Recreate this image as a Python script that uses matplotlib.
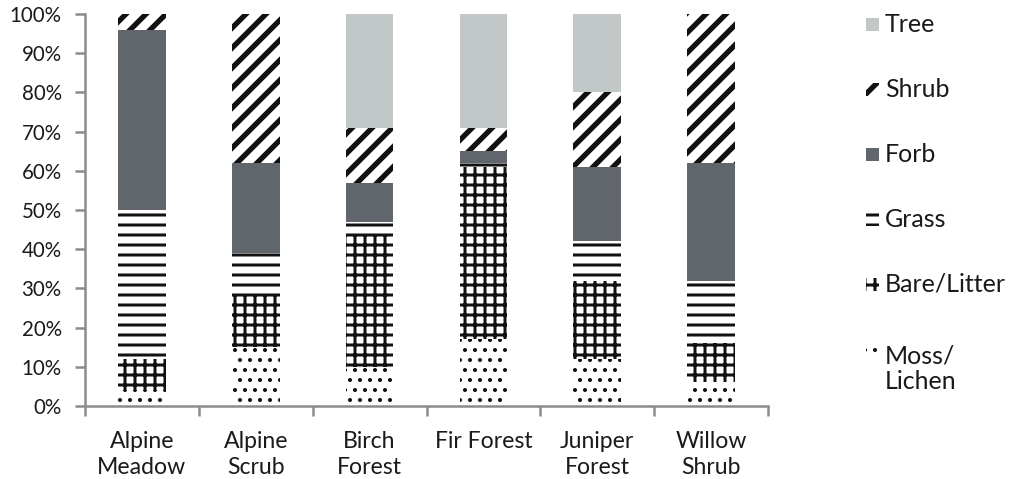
import matplotlib
matplotlib.use("Agg")
import matplotlib.pyplot as plt
from matplotlib.patches import Rectangle
import numpy as np

plt.rcParams["font.family"] = ["Lato", "DejaVu Sans"]

W, H = 1011, 479
sites = ["Alpine\nMeadow", "Alpine\nScrub", "Birch\nForest", "Fir Forest", "Juniper\nForest", "Willow\nShrub"]

# percent cover, bottom to top
moss = [4, 15, 10, 17, 12, 6]
bare = [8, 13, 34, 44, 20, 10]
grass = [38, 11, 3, 1, 10, 16]
forb = [46, 23, 10, 3, 19, 30]
shrub = [4, 38, 14, 6, 19, 38]
tree = [0, 0, 29, 29, 20, 0]

layers = [
    ("Moss/\nLichen", moss, "white", "..", 1.2),
    ("Bare/Litter", bare, "white", "++", 1.8),
    ("Grass", grass, "white", "--", 1.8),
    ("Forb", forb, "#60666b", None, 1.0),
    ("Shrub", shrub, "white", "//", 3.2),
    ("Tree", tree, "#c2c8c8", None, 1.0),
]

fig = plt.figure(figsize=(W / 120, H / 120), dpi=120)
ax = fig.add_axes([85 / W, 73 / H, (768 - 85) / W, (406 - 14) / H])

x = np.arange(len(sites))
bottom = np.zeros(len(sites))
for label, vals, color, hatch, hlw in layers:
    vals = np.array(vals, dtype=float)
    with plt.rc_context({"hatch.linewidth": hlw}):
        bars = ax.bar(x, vals, 0.42, bottom=bottom, color=color, edgecolor="#111111",
                      linewidth=0, hatch=hatch)
        for b in bars:
            if hasattr(b, "set_hatch_linewidth"):
                b.set_hatch_linewidth(hlw)
    bottom += vals

ax.set_xlim(-0.5, len(sites) - 0.5)
ax.set_ylim(0, 100)
ax.set_yticks(np.arange(0, 101, 10))
ax.set_yticklabels([f"{v}%" for v in range(0, 101, 10)])
ax.set_xticks(x)
ax.set_xticklabels(sites, linespacing=1.3)
ax.set_xticks(np.arange(-0.5, len(sites), 1), minor=True)
ax.tick_params(axis="x", which="major", length=0, pad=15, labelsize=13.8, colors="#1a1a1a")
ax.tick_params(axis="x", which="minor", length=6, width=1.5, color="#8c8c8c")
ax.tick_params(axis="y", length=6, width=1.5, color="#8c8c8c", labelsize=12.3,
               labelcolor="#1a1a1a", pad=8)
for s in ["top", "right"]:
    ax.spines[s].set_visible(False)
for s in ["left", "bottom"]:
    ax.spines[s].set_color("#8c8c8c")
    ax.spines[s].set_linewidth(1.5)

# legend drawn by hand (top entry first), marker centre and text baseline in pixels from the top
legend_y = [24, 89, 154, 219, 284, 349]
legend_base = [32, 97, 162, 227, 292, 389]
for (label, vals, color, hatch, hlw), yc, yb in zip(layers[::-1], legend_y, legend_base):
    with plt.rc_context({"hatch.linewidth": hlw}):
        r = Rectangle((866 / W, 1 - (yc + 7) / H), 13 / W, 13 / H, transform=fig.transFigure,
                      facecolor=color, edgecolor="#111111", linewidth=0, hatch=hatch)
        if hasattr(r, "set_hatch_linewidth"):
            r.set_hatch_linewidth(hlw)
    fig.patches.append(r)
    fig.text(885 / W, 1 - yb / H, label, fontsize=15, color="#1a1a1a",
             ha="left", va="baseline", linespacing=1.12)

fig.savefig("out.png", dpi=120)
